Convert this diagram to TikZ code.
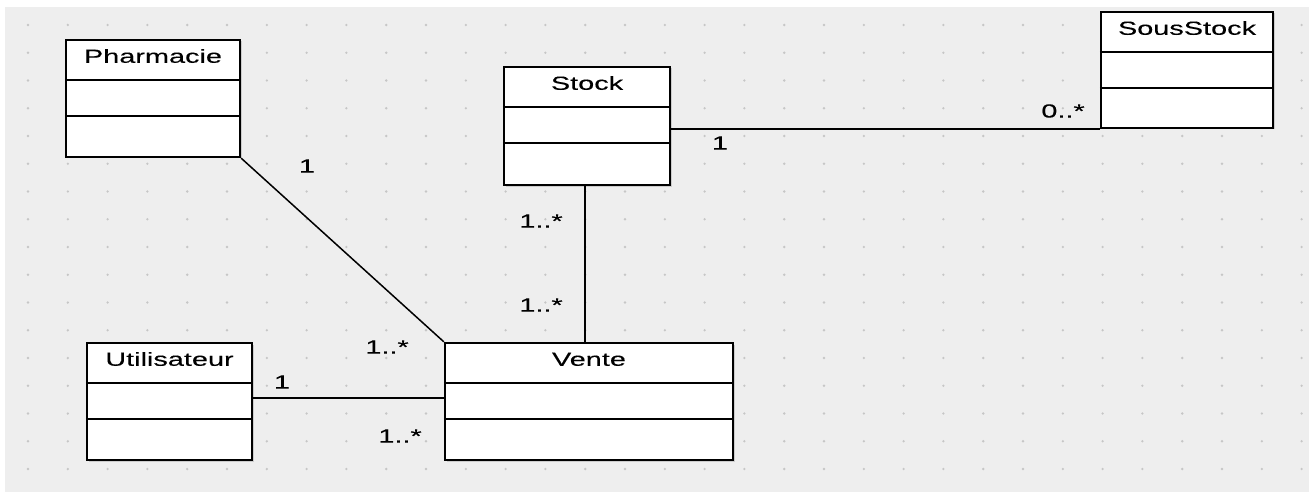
\documentclass[tikz,border=0pt]{standalone}
\usepackage{fontspec}
\setmainfont{Liberation Sans}[FakeStretch=1.52, FakeBold=0.2]
\usepackage{tikz}
\usetikzlibrary{shadows}

\definecolor{canvasgray}{HTML}{EEEEEE}
\definecolor{dotgray}{HTML}{C6C6C6}

\tikzset{
  classbox/.style={draw, line width=2.4pt, fill=white, inner sep=0pt,
    drop shadow={opacity=0.3, shadow xshift=1.5pt, shadow yshift=-1.5pt}},
  compline/.style={line width=1.6pt},
  classname/.style={anchor=base, inner sep=0pt, font=\fontsize{19}{22}\selectfont},
  mult/.style={inner sep=0pt, font=\fontsize{19}{22}\selectfont},
  assoc/.style={line width=1.5pt}
}

\begin{document}
\begin{tikzpicture}[x=1pt,y=-1pt]
\useasboundingbox (0,0) rectangle (1309,492);
\fill[white] (0,0) rectangle (1309,492);
\fill[canvasgray] (5,7) rectangle (1309,492);

% dotted grid
\foreach \i in {0,...,32}
  \foreach \j in {0,...,16}
    \fill[dotgray] ({28+39.8*\i},{25+27.75*\j}) circle (1.3);

% classes
\node[classbox, minimum width=174pt, minimum height=117pt] (pharmacie) at (153,98.5) {};
\node[classbox, minimum width=166pt, minimum height=118pt] (stock) at (587,126) {};
\node[classbox, minimum width=172pt, minimum height=116pt] (sousstock) at (1187,70) {};
\node[classbox, minimum width=165pt, minimum height=117pt] (utilisateur) at (169.5,401.5) {};
\node[classbox, minimum width=288pt, minimum height=117pt] (vente) at (589,401.5) {};

\foreach \c/\t in {pharmacie/Pharmacie, stock/Stock, sousstock/SousStock, utilisateur/Utilisateur, vente/Vente} {
  \draw[compline] ([yshift=-41pt]\c.north west) -- ([yshift=-41pt]\c.north east);
  \draw[compline] ([yshift=-77pt]\c.north west) -- ([yshift=-77pt]\c.north east);
  \node[classname] (\c-name) at ([yshift=-24pt]\c.north) {\t};
}

% associations
\draw[assoc] (pharmacie.south east) -- (vente.north west);
\draw[assoc] ([xshift=-2pt]stock.south) -- ([xshift=-2pt]stock.south |- vente.north);
\draw[assoc] (sousstock.south west -| stock.east) -- (sousstock.south west);
\draw[assoc] ([yshift=3.5pt]utilisateur.east) -- ([yshift=3.5pt]vente.west);

% multiplicities
\node[mult] (m-pharm) at (307,166) {1};
\node[mult] (m-vente-pharm) at (387,347) {1..*};
\node[mult] (m-stock) at (541,221) {1..*};
\node[mult] (m-vente-stock) at (541,305) {1..*};
\node[mult] (m-stock-sous) at (720,143) {1};
\node[mult] (m-sous) at (1063,111) {0..*};
\node[mult] (m-util) at (282,382) {1};
\node[mult] (m-vente-util) at (400,436) {1..*};
\end{tikzpicture}
\end{document}
